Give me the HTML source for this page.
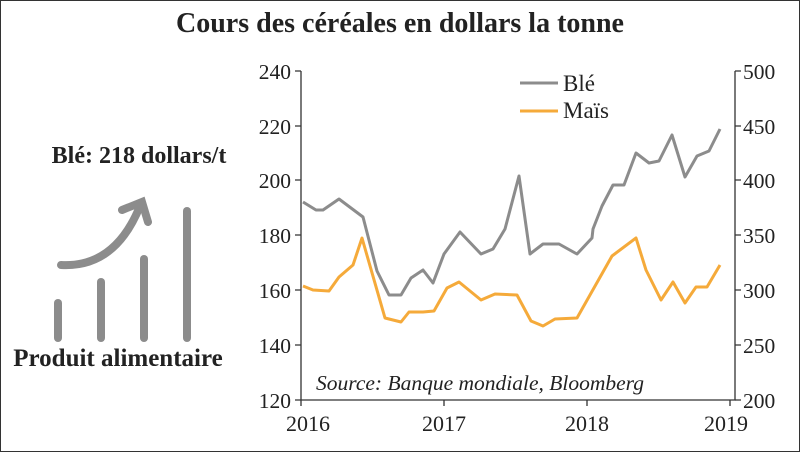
<!DOCTYPE html>
<html><head><meta charset="utf-8"><style>
body{margin:0;background:#fff}
svg text{font-family:"Liberation Serif",serif;fill:#222}
</style></head><body>
<svg width="800" height="452" viewBox="0 0 800 452" xmlns="http://www.w3.org/2000/svg">
<rect x="0.5" y="0.5" width="799" height="451" fill="#fff" stroke="#333" stroke-width="1"/>
<text x="400" y="32" text-anchor="middle" font-size="28" font-weight="bold">Cours des céréales en dollars la tonne</text>
<g stroke="#333" stroke-width="1.3" fill="none">
<path d="M301 71V400H735V71"/>
<path d="M301 71h-6M301 126h-6M301 180h-6M301 235h-6M301 290h-6M301 345h-6M301 400h-6"/>
<path d="M735 71h6M735 126h6M735 180h6M735 235h6M735 290h6M735 345h6M735 400h6"/>
<path d="M301 400v6M444 400v6M587 400v6M730 400v6"/>
</g>
<g font-size="21.5" text-anchor="end">
<text x="291" y="79">240</text><text x="291" y="134">220</text><text x="291" y="188">200</text><text x="291" y="243">180</text><text x="291" y="298">160</text><text x="291" y="353">140</text><text x="291" y="408">120</text>
</g>
<g font-size="21.5">
<text x="743" y="79">500</text><text x="743" y="134">450</text><text x="743" y="188">400</text><text x="743" y="243">350</text><text x="743" y="298">300</text><text x="743" y="353">250</text><text x="743" y="408">200</text>
</g>
<g font-size="22" text-anchor="middle">
<text x="308" y="431">2016</text><text x="444" y="431">2017</text><text x="587" y="431">2018</text><text x="726" y="431">2019</text>
</g>
<polyline fill="none" stroke="#8c8c8c" stroke-width="3" stroke-linejoin="round" points="303,202 316,210 323,210 339,199 363,217 377,271 389,295 401,295 411,278 423,270 433,283 444,254 460,232 481,254 493,249 505,229 519,176 530,254 543,244 559,244 577,254 592,238 593,229 602,206 613,185 624,185 636,153 649,163 659,161 672,135 685,177 697,156 709,151 720,129"/>
<polyline fill="none" stroke="#f5aa3a" stroke-width="3" stroke-linejoin="round" points="303,286 313,290 329,291 339,277 353,265 362,238 385,318 401,322 409,312 423,312 434,311 447,288 459,282 481,300 495,294 517,295 531,321 543,326 555,319 577,318 612,256 636,238 646,270 661,300 673,282 685,303 696,287 707,287 720,265"/>
<line x1="520" y1="83" x2="558" y2="83" stroke="#8c8c8c" stroke-width="3"/>
<line x1="520" y1="111" x2="558" y2="111" stroke="#f5aa3a" stroke-width="3"/>
<text x="563" y="91" font-size="23">Blé</text>
<text x="563" y="118" font-size="23">Maïs</text>
<text x="316" y="390" font-size="21.5" font-style="italic">Source: Banque mondiale, Bloomberg</text>
<text x="139" y="163" text-anchor="middle" font-size="24" font-weight="bold">Blé: 218 dollars/t</text>
<text x="118" y="366" text-anchor="middle" font-size="25" font-weight="bold">Produit alimentaire</text>
<g stroke="#8c8c8c" stroke-width="8" stroke-linecap="round" fill="none">
<line x1="58" y1="303" x2="58" y2="338"/>
<line x1="101" y1="282" x2="101" y2="338"/>
<line x1="144" y1="259" x2="144" y2="338"/>
<line x1="187" y1="211" x2="187" y2="338"/>
<path d="M61 265 Q115 268 140 206"/>
<path d="M122 210 L142 202 L148 222"/>
</g>
</svg>
</body></html>
